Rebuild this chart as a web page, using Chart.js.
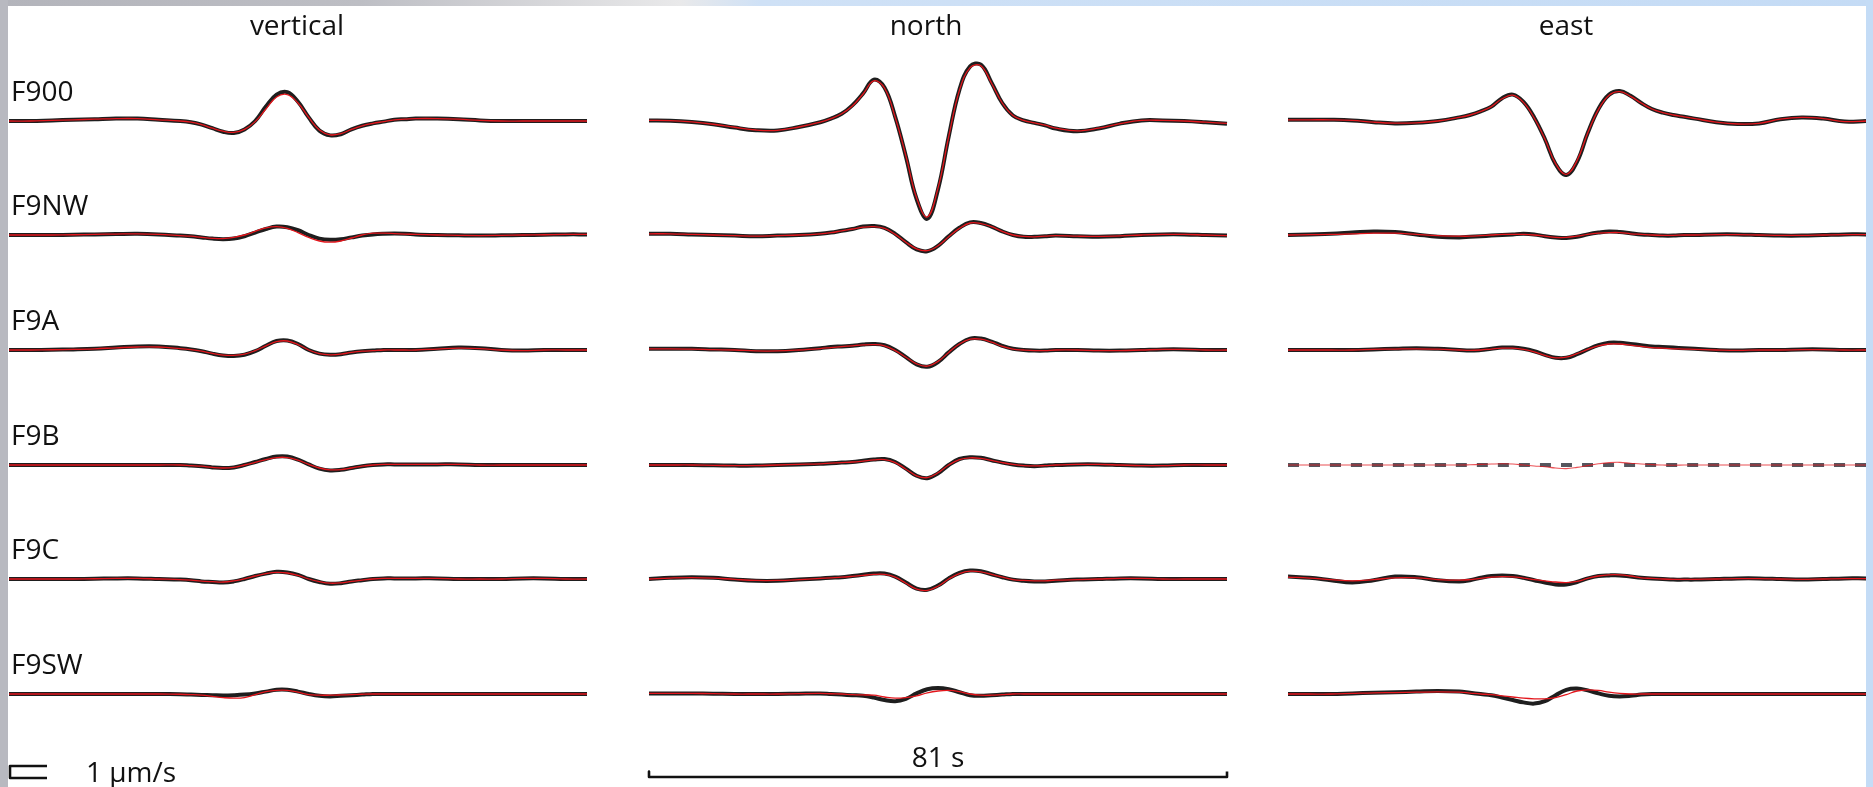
<!DOCTYPE html>
<html>
<head>
<meta charset="utf-8">
<script src="https://cdn.jsdelivr.net/npm/chart.js@4.4.1/dist/chart.umd.min.js"></script>
<style>
  html, body { margin: 0; padding: 0; background: #fff; }
  body { width: 1873px; height: 787px; position: relative; overflow: hidden;
         font-family: "Open Sans", "Noto Sans", sans-serif; color: #111; }
  canvas { position: absolute; }
  .txt { position: absolute; white-space: nowrap; line-height: 1; }
  .bar { position: absolute; }
</style>
</head>
<body>
<div class="bar" style="left:0;top:0;width:1873px;height:6px;background:linear-gradient(to right,#b3b4bb 0px,#bdbec4 360px,#e9e9ea 680px,#cfe1f6 760px,#c4dbf5 1873px);"></div>
<div class="bar" style="left:0;top:0;width:8px;height:787px;background:#b8b9c0;"></div>
<div class="bar" style="left:1866px;top:0;width:7px;height:787px;background:#c4dcf6;"></div>
<div id="stage"></div>
<script>
// Sample times (s) shared by every trace
const TIME = [0, 3, 6, 9, 12, 15, 18, 21, 24, 25.5, 27, 28.5, 30, 31.5, 33, 34.5, 36, 37.5, 39, 40.5,
              42, 43.5, 45, 46.5, 48, 49.5, 51, 52.5, 54, 55.5, 57, 60, 63, 66, 69, 72, 75, 78, 81];

const STATIONS = ['F900', 'F9NW', 'F9A', 'F9B', 'F9C', 'F9SW'];
const COMPONENTS = ['vertical', 'north', 'east'];

// Ground velocity (µm/s): observed (OBS) and synthetic (SYN)
const F900_Z_OBS = [0,0,0.05,0.1,0.15,0.2,0.2,0.1,0,-0.1,-0.3,-0.6,-0.9,-1.0,-0.7,0,1.2,2.2,2.4,1.6,0.3,-0.8,-1.2,-1.1,-0.7,-0.4,-0.2,-0.05,0.1,0.15,0.2,0.2,0.15,0.05,0,0,0,0,0];
const F900_Z_SYN = [0,0,0.05,0.1,0.15,0.2,0.2,0.1,0,-0.1,-0.3,-0.6,-0.85,-0.95,-0.7,-0.05,1.0,2.0,2.2,1.5,0.3,-0.75,-1.15,-1.05,-0.7,-0.4,-0.2,-0.05,0.1,0.15,0.2,0.2,0.15,0.05,0,0,0,0,0];
const F900_N_OBS = [0.05,0.03,-0.08,-0.27,-0.55,-0.77,-0.8,-0.5,-0.1,0.2,0.6,1.3,2.3,3.45,2.8,0.35,-2.95,-6.5,-8.15,-5.7,-1.3,2.6,4.55,4.7,3.2,1.5,0.46,0.05,-0.16,-0.36,-0.63,-0.85,-0.63,-0.22,0.05,0.05,0,-0.1,-0.22];
const F900_N_SYN = [0.05,0.03,-0.08,-0.27,-0.52,-0.75,-0.78,-0.5,-0.1,0.2,0.6,1.25,2.25,3.35,2.75,0.3,-2.9,-6.4,-8.0,-5.6,-1.3,2.55,4.45,4.6,3.15,1.5,0.46,0.05,-0.16,-0.34,-0.6,-0.82,-0.6,-0.22,0.05,0.05,0,-0.1,-0.2];
const F900_E_OBS = [0.1,0.1,0.1,0.05,-0.1,-0.2,-0.15,0,0.3,0.5,0.8,1.2,1.9,2.2,1.6,0.3,-1.5,-3.6,-4.5,-3.4,-1.0,1.0,2.2,2.5,2.1,1.5,1.0,0.7,0.5,0.35,0.2,-0.1,-0.25,-0.2,0.15,0.3,0.2,-0.05,0];
const F900_E_SYN = [0.1,0.1,0.1,0.05,-0.1,-0.18,-0.15,0,0.3,0.5,0.8,1.2,1.85,2.15,1.55,0.25,-1.5,-3.55,-4.45,-3.3,-1.0,0.95,2.15,2.45,2.05,1.5,1.0,0.7,0.5,0.35,0.2,-0.1,-0.25,-0.2,0.15,0.3,0.2,-0.05,0];

const F9NW_Z_OBS = [0,0,0,0.02,0.05,0.08,0.1,0.05,-0.05,-0.1,-0.2,-0.3,-0.35,-0.3,-0.1,0.2,0.5,0.7,0.65,0.4,0,-0.3,-0.4,-0.35,-0.2,-0.05,0.05,0.1,0.12,0.1,0.05,0,-0.03,-0.05,-0.03,0,0.02,0.05,0.05];
const F9NW_Z_SYN = [0,0,0,0.02,0.05,0.08,0.1,0.05,-0.05,-0.1,-0.2,-0.28,-0.3,-0.2,0,0.3,0.6,0.7,0.55,0.2,-0.2,-0.5,-0.6,-0.5,-0.25,0,0.15,0.15,0.12,0.08,0.05,0,-0.03,-0.05,-0.03,0,0.02,0.05,0.05];
const F9NW_N_OBS = [0.1,0.1,0.05,0,-0.05,-0.1,-0.05,0,0.1,0.2,0.35,0.5,0.7,0.75,0.6,0.1,-0.6,-1.2,-1.35,-0.9,-0.1,0.6,1.05,1.0,0.7,0.3,0,-0.15,-0.15,-0.1,-0.05,-0.1,-0.15,-0.1,0,0.05,0.05,0,-0.05];
const F9NW_N_SYN = [0.1,0.1,0.05,0,-0.05,-0.1,-0.05,0,0.1,0.2,0.35,0.5,0.65,0.7,0.55,0.05,-0.6,-1.15,-1.3,-0.9,-0.15,0.55,1.0,0.95,0.7,0.3,0,-0.12,-0.15,-0.1,-0.05,-0.1,-0.12,-0.08,0,0.05,0.05,0,-0.05];
const F9NW_E_OBS = [0,0.05,0.1,0.2,0.3,0.25,0.05,-0.15,-0.2,-0.15,-0.1,-0.05,0,0.05,0.1,0.05,-0.1,-0.2,-0.25,-0.15,0.05,0.2,0.3,0.25,0.15,0.05,0,-0.05,-0.05,0,0,0.05,0.05,0,-0.05,-0.05,0,0.05,0.05];
const F9NW_E_SYN = [0,0.03,0.05,0.1,0.15,0.15,0.05,-0.05,-0.1,-0.1,-0.05,0,0.05,0.05,0.05,0,-0.1,-0.2,-0.2,-0.1,0.05,0.15,0.2,0.2,0.1,0.05,0,-0.03,-0.03,0,0,0.03,0.03,0,-0.03,-0.03,0,0.03,0.03];

const F9A_Z_OBS = [0,0,0.02,0.05,0.1,0.2,0.3,0.3,0.15,0.05,-0.1,-0.3,-0.45,-0.5,-0.4,-0.1,0.35,0.75,0.8,0.5,0,-0.3,-0.4,-0.35,-0.2,-0.1,-0.05,0,0,0,0,0.1,0.2,0.15,0,-0.05,0,0,0];
const F9A_Z_SYN = [0,0,0.02,0.05,0.1,0.18,0.25,0.25,0.12,0.03,-0.1,-0.28,-0.42,-0.45,-0.35,-0.05,0.35,0.7,0.75,0.45,0,-0.3,-0.4,-0.35,-0.2,-0.1,-0.05,0,0,0,0,0.08,0.15,0.12,0,-0.05,0,0,0];
const F9A_N_OBS = [0.1,0.1,0.1,0.05,0,-0.1,-0.1,0,0.15,0.25,0.3,0.35,0.45,0.5,0.4,0,-0.6,-1.2,-1.4,-1.0,-0.2,0.5,0.95,0.95,0.7,0.35,0.1,0,-0.05,-0.05,0,0,-0.05,-0.05,0,0.05,0.05,0,0];
const F9A_N_SYN = [0.1,0.1,0.08,0.03,0,-0.08,-0.08,0,0.12,0.2,0.28,0.35,0.42,0.45,0.35,-0.05,-0.6,-1.15,-1.35,-0.95,-0.2,0.5,0.9,0.9,0.65,0.3,0.08,0,-0.05,-0.05,0,0,-0.05,-0.05,0,0.05,0.05,0,0];
const F9A_E_OBS = [0,0,0,0,0.05,0.1,0.15,0.1,0,-0.05,0,0.1,0.2,0.2,0.1,-0.1,-0.4,-0.65,-0.65,-0.35,0.05,0.4,0.6,0.6,0.5,0.4,0.3,0.25,0.2,0.15,0.1,0,-0.05,0,0,0.05,0.05,0,0];
const F9A_E_SYN = [0,0,0,0,0.05,0.08,0.1,0.08,0,-0.03,0,0.08,0.15,0.15,0.05,-0.15,-0.45,-0.65,-0.6,-0.3,0.05,0.35,0.5,0.5,0.4,0.3,0.2,0.15,0.1,0.08,0.05,0,-0.03,0,0,0.03,0.03,0,0];

const F9B_Z_OBS = [0,0,0,0,0,0,0,0,0,-0.05,-0.1,-0.2,-0.25,-0.2,0,0.25,0.5,0.7,0.7,0.45,0.05,-0.3,-0.45,-0.4,-0.25,-0.1,0,0.05,0.05,0.05,0.05,0.05,0.05,0,0,0,0,0,0];
const F9B_Z_SYN = [0,0,0,0,0,0,0,0,0,-0.05,-0.1,-0.2,-0.25,-0.2,0,0.22,0.45,0.62,0.62,0.4,0.05,-0.25,-0.4,-0.38,-0.25,-0.1,0,0.05,0.05,0.05,0.05,0.05,0.05,0,0,0,0,0,0];
const F9B_N_OBS = [0,0,0,-0.03,-0.05,-0.05,0,0.05,0.1,0.15,0.2,0.25,0.35,0.45,0.5,0.25,-0.3,-0.9,-1.1,-0.7,0,0.5,0.65,0.6,0.4,0.2,0.05,-0.05,-0.1,-0.05,0,0.05,0.05,0,-0.05,-0.05,0,0,0];
const F9B_N_SYN = [0,0,0,-0.03,-0.05,-0.05,0,0.05,0.1,0.15,0.2,0.25,0.33,0.42,0.45,0.2,-0.35,-0.9,-1.05,-0.65,0,0.45,0.6,0.55,0.38,0.2,0.05,-0.05,-0.08,-0.05,0,0.05,0.05,0,-0.05,-0.05,0,0,0];
const F9B_E_OBS = [0,0,0,0,0,0,0,0,0,0,0,0,0,0,0,0,0,0,0,0,0,0,0,0,0,0,0,0,0,0,0,0,0,0,0,0,0,0,0];
const F9B_E_SYN = [0,0,0,0,0,0,0,0,0,0.02,0.05,0.08,0.1,0.08,0,-0.08,-0.15,-0.25,-0.3,-0.2,-0.05,0.1,0.2,0.22,0.15,0.08,0.03,0,-0.02,0,0,0,0,0,0,0,0,0,0];

const F9C_Z_OBS = [0,0,0,0,0.02,0.05,0.05,0,-0.05,-0.1,-0.2,-0.25,-0.3,-0.2,0,0.25,0.45,0.6,0.55,0.35,0,-0.25,-0.4,-0.35,-0.2,-0.1,0,0.05,0.05,0.05,0.05,0.05,0,0,0,0.05,0.05,0,0];
const F9C_Z_SYN = [0,0,0,0,0.02,0.05,0.05,0,-0.05,-0.1,-0.18,-0.22,-0.25,-0.15,0.02,0.25,0.45,0.55,0.5,0.3,0,-0.22,-0.35,-0.32,-0.2,-0.1,0,0.05,0.05,0.05,0.05,0.05,0,0,0,0.05,0.05,0,0];
const F9C_N_OBS = [0,0.1,0.15,0.1,-0.05,-0.15,-0.15,-0.05,0.05,0.1,0.15,0.25,0.35,0.45,0.45,0.2,-0.3,-0.8,-0.9,-0.55,0.05,0.5,0.7,0.65,0.4,0.15,-0.05,-0.15,-0.2,-0.2,-0.15,-0.05,0,0.05,0.05,0,0,0,0];
const F9C_N_SYN = [0,0.08,0.12,0.08,-0.03,-0.12,-0.12,-0.05,0.05,0.1,0.15,0.22,0.3,0.38,0.38,0.15,-0.35,-0.85,-0.95,-0.6,0,0.45,0.65,0.6,0.38,0.15,-0.05,-0.12,-0.15,-0.15,-0.1,-0.05,0,0.05,0.05,0,0,0,0];
const F9C_E_OBS = [0.2,0.1,-0.1,-0.3,-0.1,0.2,0.15,-0.1,-0.2,-0.1,0.1,0.25,0.3,0.25,0.1,-0.1,-0.3,-0.45,-0.45,-0.25,0.05,0.25,0.3,0.3,0.2,0.1,0.05,0,-0.05,-0.05,-0.05,0,0.05,0.05,0,-0.05,0,0.05,0.05];
const F9C_E_SYN = [0.15,0.08,-0.05,-0.15,-0.05,0.1,0.1,-0.05,-0.1,-0.05,0.05,0.15,0.2,0.18,0.08,-0.05,-0.15,-0.25,-0.3,-0.2,0.05,0.25,0.35,0.35,0.25,0.1,0.05,0,-0.03,-0.03,-0.03,0,0.03,0.03,0,-0.03,0,0.03,0.03];

const F9SW_Z_OBS = [0,0,0,0,0,0,0,0,-0.02,-0.05,-0.08,-0.1,-0.12,-0.1,-0.05,0.05,0.2,0.35,0.35,0.2,0,-0.15,-0.2,-0.15,-0.1,-0.05,0,0,0,0,0,0,0,0,0,0,0,0,0];
const F9SW_Z_SYN = [0,0,0,0,0,0,0,0,-0.02,-0.05,-0.1,-0.2,-0.3,-0.35,-0.3,-0.05,0.2,0.3,0.3,0.15,-0.05,-0.1,-0.1,-0.08,-0.05,-0.02,0,0,0,0,0,0,0,0,0,0,0,0,0];
const F9SW_N_OBS = [0.05,0.05,0.05,0.03,0,0,0,0.03,0.05,0,-0.05,-0.1,-0.15,-0.3,-0.5,-0.6,-0.4,0.05,0.4,0.5,0.4,0.15,-0.1,-0.15,-0.1,-0.05,0,0,0,0,0,0,0,0,0,0,0,0,0];
const F9SW_N_SYN = [0.05,0.05,0.05,0.03,0,0,0,0.03,0.05,0.02,0,-0.05,-0.08,-0.1,-0.25,-0.35,-0.3,-0.15,0.1,0.25,0.3,0.2,0,-0.1,-0.1,-0.05,0,0,0,0,0,0,0,0,0,0,0,0,0];
const F9SW_E_OBS = [0,0,0,0.05,0.1,0.15,0.2,0.25,0.2,0.1,0,-0.1,-0.3,-0.5,-0.7,-0.8,-0.6,-0.1,0.35,0.45,0.3,0.05,-0.15,-0.2,-0.15,-0.05,0,0,0,0,0,0,0,0,0,0,0,0,0];
const F9SW_E_SYN = [0,0,0,0.05,0.1,0.12,0.15,0.18,0.15,0.08,0,-0.05,-0.15,-0.25,-0.35,-0.4,-0.4,-0.3,-0.05,0.25,0.35,0.3,0.15,0.05,0,0,0,0,0,0,0,0,0,0,0,0,0,0,0];

// Scale bars
const SCALE_SECONDS = 81;     // time bar length, s
const SCALE_VELOCITY = 1;     // amplitude bar height, µm/s

// station -> [vertical, north, east] -> [observed, synthetic]
const TRACES = {
  F900: [[F900_Z_OBS, F900_Z_SYN], [F900_N_OBS, F900_N_SYN], [F900_E_OBS, F900_E_SYN]],
  F9NW: [[F9NW_Z_OBS, F9NW_Z_SYN], [F9NW_N_OBS, F9NW_N_SYN], [F9NW_E_OBS, F9NW_E_SYN]],
  F9A:  [[F9A_Z_OBS,  F9A_Z_SYN],  [F9A_N_OBS,  F9A_N_SYN],  [F9A_E_OBS,  F9A_E_SYN]],
  F9B:  [[F9B_Z_OBS,  F9B_Z_SYN],  [F9B_N_OBS,  F9B_N_SYN],  [F9B_E_OBS,  F9B_E_SYN]],
  F9C:  [[F9C_Z_OBS,  F9C_Z_SYN],  [F9C_N_OBS,  F9C_N_SYN],  [F9C_E_OBS,  F9C_E_SYN]],
  F9SW: [[F9SW_Z_OBS, F9SW_Z_SYN], [F9SW_N_OBS, F9SW_N_SYN], [F9SW_E_OBS, F9SW_E_SYN]]
};
// components whose observed record is missing (drawn dashed)
const MISSING = { F9B: [false, false, true] };

// ---- layout ----
const COL_X = [9, 649, 1288];      // left edge of each component column
const COL_W = 578;                 // width spanned by the record window
const TITLE_X = [297, 926, 1566];
const ROW_Y0 = 120.5, ROW_DY = 114.7;   // zero line of first row, row spacing
const PX_PER_UNIT = 12;            // px per µm/s
const HALF_RANGE = 10;             // µm/s shown above / below a zero line
const PAD = 6;
const FONT_PX = 28;

const OBS_COLOR = '#1e1e1e';
const SYN_COLOR = '#e3161c';
const MISSING_COLOR = '#55565e';

const stage = document.getElementById('stage');

function addCanvas(left, top, w, h) {
  const c = document.createElement('canvas');
  c.width = w; c.height = h;
  c.style.left = left + 'px'; c.style.top = top + 'px';
  c.style.width = w + 'px'; c.style.height = h + 'px';
  stage.appendChild(c);
  return c;
}

function baseOptions(xmin, xmax, ymin, ymax, pad) {
  return {
    responsive: false, animation: false, devicePixelRatio: 1, events: [],
    layout: { padding: { left: pad, right: pad, top: 0, bottom: 0 } },
    plugins: { legend: { display: false }, tooltip: { enabled: false }, title: { display: false } },
    scales: {
      x: { type: 'linear', min: xmin, max: xmax, display: false },
      y: { type: 'linear', min: ymin, max: ymax, display: false }
    },
    elements: { point: { radius: 0 }, line: { borderCapStyle: 'butt', borderJoinStyle: 'round' } }
  };
}

function points(values) {
  return TIME.map((t, i) => ({ x: t, y: values[i] }));
}

function addText(str, x, y, size, anchor) {
  const d = document.createElement('div');
  d.className = 'txt';
  d.textContent = str;
  d.style.fontSize = size + 'px';
  d.style.left = x + 'px';
  d.style.top = y + 'px';
  d.style.transform = anchor === 'center' ? 'translate(-50%,-50%)' : 'translate(0,-50%)';
  stage.appendChild(d);
  return d;
}

// seismogram cells
STATIONS.forEach((st, r) => {
  const zero = ROW_Y0 + r * ROW_DY;
  COMPONENTS.forEach((comp, c) => {
    const [obs, syn] = TRACES[st][c];
    const missing = MISSING[st] && MISSING[st][c];
    const h = 2 * HALF_RANGE * PX_PER_UNIT;
    const cv = addCanvas(COL_X[c] - PAD, zero - h / 2, COL_W + 2 * PAD, h);
    new Chart(cv, {
      type: 'line',
      data: {
        datasets: [
          { data: points(syn), borderColor: missing ? 'rgba(227,22,28,0.75)' : SYN_COLOR,
            borderWidth: missing ? 1.1 : 1.3, tension: 0.4, clip: false, order: 0 },
          { data: points(obs), borderColor: missing ? MISSING_COLOR : OBS_COLOR,
            borderWidth: 4, borderDash: missing ? [11, 10] : [],
            tension: 0.4, clip: false, order: 1 }
        ]
      },
      options: baseOptions(0, TIME[TIME.length - 1], -HALF_RANGE, HALF_RANGE, PAD)
    });
  });
  addText(st, 11, zero - 31, FONT_PX, 'left');
});

COMPONENTS.forEach((comp, c) => addText(comp, TITLE_X[c], 24, FONT_PX, 'center'));

// time scale bar under the north column
(function () {
  const h = 30, zeroY = 776.5;
  const cv = addCanvas(COL_X[1] - PAD, zeroY - h / 2, COL_W + 2 * PAD, h);
  const tick = 0.45;
  new Chart(cv, {
    type: 'line',
    data: { datasets: [{
      data: [{ x: 0, y: tick }, { x: 0, y: 0 }, { x: SCALE_SECONDS, y: 0 }, { x: SCALE_SECONDS, y: tick }],
      borderColor: '#111', borderWidth: 2.6, tension: 0, clip: false
    }] },
    options: baseOptions(0, TIME[TIME.length - 1], -h / 2 / PX_PER_UNIT, h / 2 / PX_PER_UNIT, PAD)
  });
  addText(SCALE_SECONDS + ' s', 938, 756, FONT_PX, 'center');
})();

// amplitude scale bar
(function () {
  const h = 40, zeroY = 777.5, w = 37;
  const cv = addCanvas(10 - PAD, zeroY - h / 2, w + 2 * PAD, h);
  new Chart(cv, {
    type: 'line',
    data: { datasets: [{
      data: [{ x: 1, y: SCALE_VELOCITY }, { x: 0, y: SCALE_VELOCITY }, { x: 0, y: 0 }, { x: 1, y: 0 }],
      borderColor: '#111', borderWidth: 2.6, tension: 0, clip: false
    }] },
    options: baseOptions(0, 1, -h / 2 / PX_PER_UNIT, h / 2 / PX_PER_UNIT, PAD)
  });
  addText(SCALE_VELOCITY + ' µm/s', 86, 771, FONT_PX, 'left');
})();
</script>
</body>
</html>
